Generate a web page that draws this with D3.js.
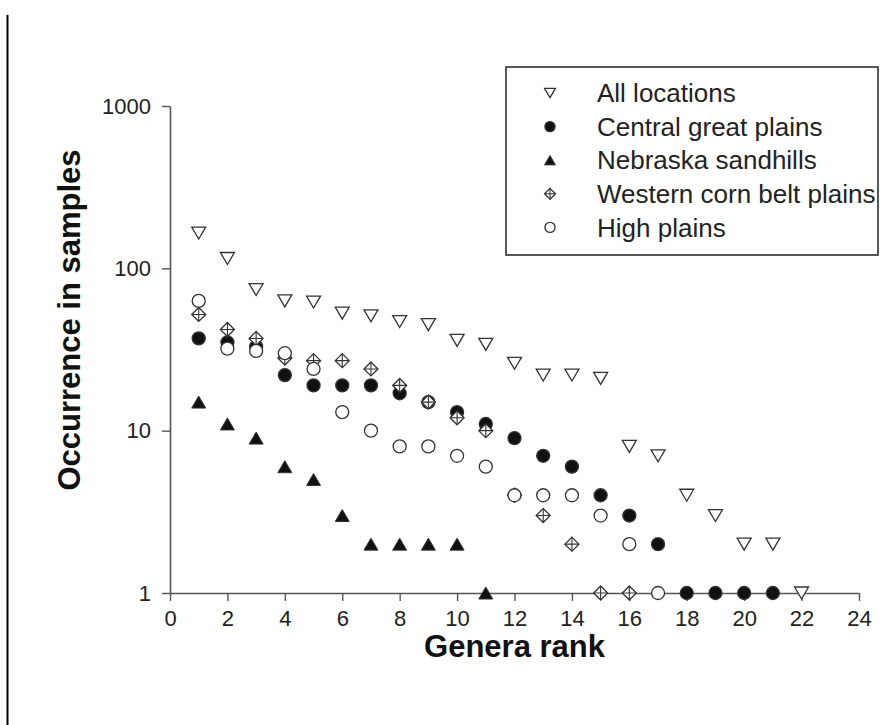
<!DOCTYPE html>
<html>
<head>
<meta charset="utf-8">
<script src="https://cdn.jsdelivr.net/npm/d3@7"></script>
<style>
  body { margin: 0; background: #fff; }
  svg { display: block; font-family: "Liberation Sans", Arial, sans-serif; }
</style>
</head>
<body>
<svg id="chart"></svg>
<script>
const width = 895;
const height = 725;

// occurrence of each genus rank, per location group
const allLocations = [165, 115, 74, 63, 62, 53, 51, 47, 45, 36, 34, 26, 22, 22, 21, 8, 7, 4, 3, 2, 2, 1];
const centralGreatPlains = [37, 35, 33, 22, 19, 19, 19, 17, 15, 13, 11, 9, 7, 6, 4, 3, 2, 1, 1, 1, 1];
const nebraskaSandhills = [15, 11, 9, 6, 5, 3, 2, 2, 2, 2, 1];
const westernCornBelt = [52, 42, 37, 28, 27, 27, 24, 19, 15, 12, 10, 4, 3, 2, 1, 1];
const highPlains = [63, 32, 31, 30, 24, 13, 10, 8, 8, 7, 6, 4, 4, 4, 3, 2, 1];

const xTicks = d3.range(0, 25, 2);
const yTicks = [1, 10, 100, 1000];

const series = [
  { name: "All locations", values: allLocations, shape: "down" },
  { name: "Central great plains", values: centralGreatPlains, shape: "dot" },
  { name: "Nebraska sandhills", values: nebraskaSandhills, shape: "up" },
  { name: "Western corn belt plains", values: westernCornBelt, shape: "diamond" },
  { name: "High plains", values: highPlains, shape: "circle" }
];
// stacking order of the marks (last on top)
const drawOrder = ["down", "up", "dot", "diamond", "circle"];

const x = d3.scaleLinear().domain([0, 24]).range([170, 859]);
const y = d3.scaleLog().domain([1, 1000]).range([593, 106]);

const svg = d3.select("#chart")
  .attr("width", width)
  .attr("height", height)
  .attr("viewBox", [0, 0, width, height]);

// left frame line
svg.append("line")
  .attr("x1", 7.5).attr("x2", 7.5)
  .attr("y1", 15).attr("y2", height)
  .attr("stroke", "#000")
  .attr("stroke-width", 2);

function marker(sel, shape, s) {
  const stroke = "#333";
  if (shape === "dot" || shape === "circle") {
    sel.append("circle")
      .attr("r", 6.5 * s)
      .attr("fill", shape === "dot" ? "#111" : "#fff")
      .attr("stroke", stroke)
      .attr("stroke-width", 1.3);
  } else if (shape === "down") {
    sel.append("path")
      .attr("d", `M${-7 * s},${-6 * s}L${7 * s},${-6 * s}L0,${6 * s}Z`)
      .attr("fill", "#fff")
      .attr("stroke", stroke)
      .attr("stroke-width", 1.3);
  } else if (shape === "up") {
    sel.append("path")
      .attr("d", `M${-7 * s},${6 * s}L${7 * s},${6 * s}L0,${-6 * s}Z`)
      .attr("fill", "#111")
      .attr("stroke", stroke)
      .attr("stroke-width", 1);
  } else if (shape === "diamond") {
    const r = 7 * s;
    sel.append("path")
      .attr("d", `M0,${-r}L${r},0L0,${r}L${-r},0Z`)
      .attr("fill", "#fff")
      .attr("stroke", stroke)
      .attr("stroke-width", 1.3);
    sel.append("path")
      .attr("d", `M0,${-r}V${r}M${-r},0H${r}`)
      .attr("stroke", stroke)
      .attr("stroke-width", 1.1);
  }
}

// axes
const xAxis = svg.append("g")
  .attr("transform", `translate(0,${y(1)})`)
  .call(d3.axisBottom(x).tickValues(xTicks).tickSize(8).tickSizeOuter(0).tickPadding(9));

const yAxis = svg.append("g")
  .attr("transform", `translate(${x(0)},0)`)
  .call(d3.axisLeft(y).tickValues(yTicks).tickFormat(d3.format("d")).tickSize(8).tickSizeOuter(0).tickPadding(11));

[xAxis, yAxis].forEach(g => {
  g.select(".domain").attr("stroke", "#555").attr("stroke-width", 1.6);
  g.selectAll(".tick line").attr("stroke", "#555").attr("stroke-width", 1.4);
  g.selectAll(".tick text")
    .attr("fill", "#222")
    .style("font-size", "22px")
    .style("font-family", "'Liberation Sans', Arial, sans-serif");
});

// points
drawOrder.forEach(shape => {
  const s = series.find(d => d.shape === shape);
  svg.append("g")
    .selectAll("g")
    .data(s.values.map((v, i) => ({ rank: i + 1, value: v })))
    .join("g")
    .attr("transform", d => `translate(${x(d.rank)},${y(d.value)})`)
    .each(function() { marker(d3.select(this), shape, 1); });
});

// axis titles
svg.append("text")
  .attr("x", (x(0) + x(24)) / 2)
  .attr("y", 657)
  .attr("text-anchor", "middle")
  .attr("font-weight", "bold")
  .attr("font-size", 31)
  .attr("fill", "#111")
  .text("Genera rank");

svg.append("text")
  .attr("transform", "translate(80,320) rotate(-90)")
  .attr("text-anchor", "middle")
  .attr("font-weight", "bold")
  .attr("font-size", 31)
  .attr("fill", "#111")
  .text("Occurrence in samples");

// legend
const legend = svg.append("g");
legend.append("rect")
  .attr("x", 506).attr("y", 67)
  .attr("width", 372).attr("height", 188)
  .attr("fill", "#fff")
  .attr("stroke", "#222")
  .attr("stroke-width", 1.5);

const rows = legend.selectAll("g.row")
  .data(series)
  .join("g")
  .attr("class", "row")
  .attr("transform", (d, i) => `translate(550,${93 + i * 33.6})`);

rows.each(function(d) { marker(d3.select(this), d.shape, 0.78); });

rows.append("text")
  .attr("x", 47)
  .attr("dy", "0.35em")
  .attr("font-size", 26)
  .attr("fill", "#222")
  .text(d => d.name);
</script>
</body>
</html>
